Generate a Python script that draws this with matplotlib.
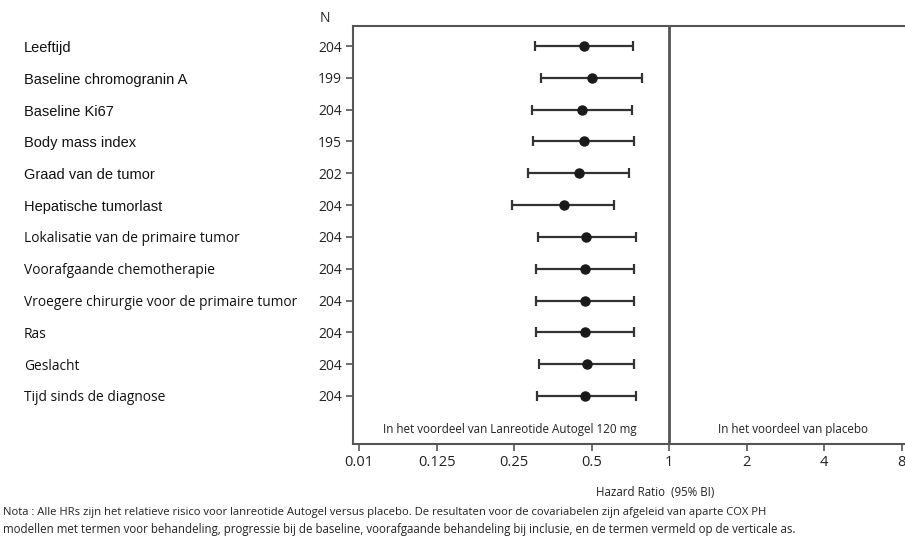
import matplotlib.pyplot as plt

# covariates, sample size and hazard ratios with 95% CI
labels = ["Leeftijd", "Baseline chromogranin A", "Baseline Ki67", "Body mass index",
          "Graad van de tumor", "Hepatische tumorlast", "Lokalisatie van de primaire tumor",
          "Voorafgaande chemotherapie", "Vroegere chirurgie voor de primaire tumor",
          "Ras", "Geslacht", "Tijd sinds de diagnose"]
n_values = [204, 199, 204, 195, 202, 204, 204, 204, 204, 204, 204, 204]
hr = [0.465, 0.50, 0.458, 0.466, 0.446, 0.389, 0.476, 0.47, 0.47, 0.47, 0.48, 0.47]
ci_low = [0.301, 0.319, 0.292, 0.297, 0.282, 0.246, 0.31, 0.304, 0.304, 0.304, 0.312, 0.308]
ci_high = [0.723, 0.785, 0.716, 0.729, 0.699, 0.613, 0.746, 0.729, 0.729, 0.729, 0.729, 0.742]

tick_vals = [1/16, 0.125, 0.25, 0.5, 1, 2, 4, 8]
tick_labels = ["0.01", "0.125", "0.25", "0.5", "1", "2", "4", "8"]

W, H = 905, 538
fig = plt.figure(figsize=(W/100, H/100), dpi=100)
ax = fig.add_axes([353/W, (H-444)/H, 552/W, (444-26)/H])

ypos = list(range(len(labels)))
err = [[h - l for h, l in zip(hr, ci_low)], [u - h for h, u in zip(hr, ci_high)]]
ax.errorbar(hr, ypos, xerr=err, fmt="o", color="#1a1a1a", ecolor="#333333",
            elinewidth=1.6, capsize=3.5, capthick=1.6, markersize=6.5)

ax.set_xscale("log", base=2)
ax.set_xlim(2**-4.08, 2**3.045)
ax.set_ylim(12.51, -0.63)
ax.axvline(1, color="#555555", lw=2)

ax.set_xticks(tick_vals)
ax.set_xticklabels(tick_labels, fontsize=10.5, family="Open Sans", color="#222222")
ax.minorticks_off()
ax.set_yticks(ypos)
ax.set_yticklabels(n_values, fontsize=10, family="Open Sans", color="#222222")
ax.tick_params(axis="both", length=5, width=1.2, color="#555555", pad=3)

for s in ["left", "top", "bottom"]:
    ax.spines[s].set_color("#555555")
    ax.spines[s].set_linewidth(1.5)
ax.spines["right"].set_visible(False)

#text in the bottom band of the plot
ax.text(2**-2.06, 12.05, "In het voordeel van Lanreotide Autogel 120 mg",
        ha="center", va="center", fontsize=8.4, family="Open Sans", color="#222222")
ax.text(2**1.6, 12.05, "In het voordeel van placebo",
        ha="center", va="center", fontsize=8.4, family="Open Sans", color="#222222")

#covariate names on the left
for i, lab in enumerate(labels):
    fam = "Liberation Sans" if i < 6 else "Open Sans"
    fig.text(24/W, 1 - (46 + i*31.8 + 2)/H, lab, ha="left", va="center",
             fontsize=10.5 if i < 6 else 9.9, family=fam, color="#111111")

fig.text(325/W, 1 - 19/H, "N", ha="center", va="center", fontsize=10,
         family="Open Sans", color="#222222")
fig.text(655/W, 1 - 492/H, "Hazard Ratio  (95% BI)", ha="center", va="center",
         fontsize=8.3, family="Open Sans", color="#222222")
fig.text(3/W, 1 - 513/H,
         "Nota : Alle HRs zijn het relatieve risico voor lanreotide Autogel versus placebo. "
         "De resultaten voor de covariabelen zijn afgeleid van aparte COX PH",
         ha="left", va="center", fontsize=8.1, family="Open Sans", color="#222222")
fig.text(3/W, 1 - 529/H,
         "modellen met termen voor behandeling, progressie bij de baseline, voorafgaande "
         "behandeling bij inclusie, en de termen vermeld op de verticale as.",
         ha="left", va="center", fontsize=8.3, family="Open Sans", color="#222222")

fig.savefig("out.png", dpi=100)
